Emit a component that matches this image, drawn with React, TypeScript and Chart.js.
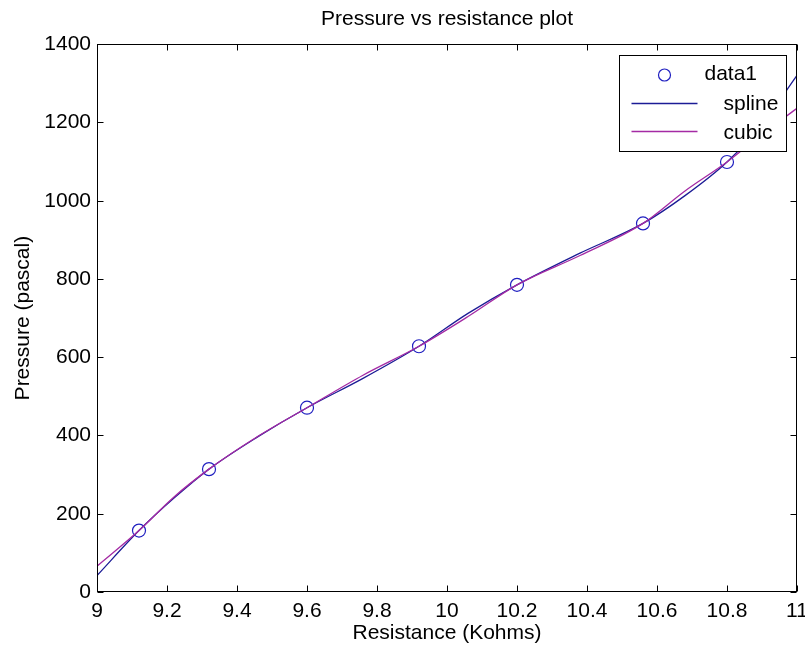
import React, { useEffect, useRef } from "react";
import { Chart, registerables } from "chart.js";

Chart.register(...registerables);

const FONT = "'Liberation Sans', Arial, Helvetica, sans-serif";

const titleText = "Pressure vs resistance plot";
const xTitle = "Resistance (Kohms)";
const yTitle = "Pressure (pascal)";
const legendLabels = ["data1", "spline", "cubic"];

// measured samples (circles)
const dataX = [9.12, 9.32, 9.6, 9.92, 10.2, 10.56, 10.8];
const dataY = [157, 314, 471, 628, 785, 942, 1099];

// curves
const curveX = [9, 9.12, 9.22, 9.32, 9.46, 9.6, 9.76, 9.92, 10.06, 10.2, 10.38, 10.56, 10.68, 10.8, 10.9, 11];
const splineY = [42, 157, 240, 314, 397, 471, 546, 628, 712, 785, 866, 942, 1013, 1099, 1195, 1320];
const cubicY = [66, 157, 243, 314, 398, 471, 554, 628, 704, 785, 860, 942, 1025, 1099, 1170, 1236];

const xTicks = [9, 9.2, 9.4, 9.6, 9.8, 10, 10.2, 10.4, 10.6, 10.8, 11];
const xTickLabels = ["9", "9.2", "9.4", "9.6", "9.8", "10", "10.2", "10.4", "10.6", "10.8", "11"];
const yTicks = [0, 200, 400, 600, 800, 1000, 1200, 1400];
const yTickLabels = ["0", "200", "400", "600", "800", "1000", "1200", "1400"];

const CIRCLE_COLOR = "#2020c0";
const SPLINE_COLOR = "#1c1c96";
const CUBIC_COLOR = "#a42aa4";

const boxPlugin = {
  id: "matlabBox",
  afterDatasetsDraw(chart: any) {
    const { ctx, chartArea: a, scales } = chart;
    const L = Math.round(a.left) + 0.5;
    const R = Math.round(a.right) - 0.5;
    const T = Math.round(a.top) + 0.5;
    const B = Math.round(a.bottom) - 0.5;
    ctx.save();
    ctx.strokeStyle = "#000";
    ctx.lineWidth = 1;
    ctx.strokeRect(L, T, R - L, B - T);
    const tl = 6;
    ctx.beginPath();
    xTicks.forEach((v) => {
      const px = Math.round(scales.x.getPixelForValue(v)) + 0.5;
      ctx.moveTo(px, B);
      ctx.lineTo(px, B - tl);
      ctx.moveTo(px, T);
      ctx.lineTo(px, T + tl);
    });
    yTicks.forEach((v) => {
      const py = Math.round(scales.y.getPixelForValue(v)) + 0.5;
      ctx.moveTo(L, py);
      ctx.lineTo(L + tl, py);
      ctx.moveTo(R, py);
      ctx.lineTo(R - tl, py);
    });
    ctx.stroke();
    ctx.restore();
  },
};

const legendPlugin = {
  id: "matlabLegend",
  afterDraw(chart: any) {
    const { ctx, chartArea: a } = chart;
    const left = Math.round(a.right) - 178 + 0.5;
    const top = Math.round(a.top) + 11 + 0.5;
    const w = 167;
    const h = 96;
    ctx.save();
    ctx.fillStyle = "#fff";
    ctx.fillRect(left, top, w, h);
    ctx.strokeStyle = "#000";
    ctx.lineWidth = 1;
    ctx.strokeRect(left, top, w, h);

    ctx.font = `21px ${FONT}`;
    ctx.fillStyle = "#000";
    ctx.textBaseline = "middle";
    ctx.textAlign = "left";

    // data1
    ctx.strokeStyle = CIRCLE_COLOR;
    ctx.lineWidth = 1.2;
    ctx.beginPath();
    ctx.arc(left + 45, top + 19.5, 6, 0, Math.PI * 2);
    ctx.stroke();
    ctx.fillText(legendLabels[0], left + 85, top + 19);

    // spline
    ctx.strokeStyle = SPLINE_COLOR;
    ctx.lineWidth = 1.3;
    ctx.beginPath();
    ctx.moveTo(left + 12, top + 48);
    ctx.lineTo(left + 78, top + 48);
    ctx.stroke();
    ctx.fillText(legendLabels[1], left + 104, top + 49);

    // cubic
    ctx.strokeStyle = CUBIC_COLOR;
    ctx.beginPath();
    ctx.moveTo(left + 12, top + 76);
    ctx.lineTo(left + 78, top + 76);
    ctx.stroke();
    ctx.fillText(legendLabels[2], left + 104, top + 78);
    ctx.restore();
  },
};

export default function App() {
  const ref = useRef<HTMLCanvasElement | null>(null);

  useEffect(() => {
    if (!ref.current) return;
    const font = { family: FONT, size: 21, weight: "normal" as const };
    const chart = new Chart(ref.current, {
      type: "line",
      data: {
        datasets: [
          {
            label: legendLabels[0],
            data: dataX.map((x, i) => ({ x, y: dataY[i] })),
            showLine: false,
            pointStyle: "circle",
            pointRadius: 6.5,
            pointBorderWidth: 1.2,
            pointBorderColor: CIRCLE_COLOR,
            pointBackgroundColor: "rgba(0,0,0,0)",
            borderColor: CIRCLE_COLOR,
            order: 3,
          },
          {
            label: legendLabels[1],
            data: curveX.map((x, i) => ({ x, y: splineY[i] })),
            borderColor: SPLINE_COLOR,
            borderWidth: 1.3,
            pointRadius: 0,
            cubicInterpolationMode: "monotone",
            order: 2,
          },
          {
            label: legendLabels[2],
            data: curveX.map((x, i) => ({ x, y: cubicY[i] })),
            borderColor: CUBIC_COLOR,
            borderWidth: 1.3,
            pointRadius: 0,
            cubicInterpolationMode: "monotone",
            order: 1,
          },
        ],
      },
      options: {
        responsive: false,
        animation: false,
        layout: { padding: { left: 0, right: 8, top: 0, bottom: 0 } },
        plugins: {
          legend: { display: false },
          tooltip: { enabled: false },
          title: {
            display: true,
            text: titleText,
            fullSize: false,
            color: "#000",
            font,
            padding: { top: 7, bottom: 12 },
          },
        },
        scales: {
          x: {
            type: "linear",
            min: 9,
            max: 11,
            afterBuildTicks: (s: any) => {
              s.ticks = xTicks.map((v) => ({ value: v }));
            },
            afterFit: (s: any) => {
              s.height = 58;
              s.paddingLeft = 0;
              s.paddingRight = 0;
            },
            ticks: {
              color: "#000",
              font,
              padding: 7,
              maxRotation: 0,
              autoSkip: false,
              callback: (_v: any, i: number) => xTickLabels[i],
            },
            grid: { display: false, drawTicks: false },
            border: { display: false },
            title: { display: true, text: xTitle, color: "#000", font, padding: { top: 0, bottom: 4 } },
          },
          y: {
            type: "linear",
            min: 0,
            max: 1400,
            afterBuildTicks: (s: any) => {
              s.ticks = yTicks.map((v) => ({ value: v }));
            },
            afterFit: (s: any) => {
              s.width = 97;
              s.paddingTop = 0;
              s.paddingBottom = 0;
            },
            ticks: {
              color: "#000",
              font,
              padding: 6,
              autoSkip: false,
              callback: (_v: any, i: number) => yTickLabels[i],
            },
            grid: { display: false, drawTicks: false },
            border: { display: false },
            title: { display: true, text: yTitle, color: "#000", font, padding: { top: 11, bottom: 0 } },
          },
        },
      },
      plugins: [boxPlugin, legendPlugin],
    });
    return () => chart.destroy();
  }, []);

  return (
    <div style={{ position: "absolute", left: 0, top: 0, width: 805, height: 650, background: "#fff" }}>
      <canvas ref={ref} width={805} height={650} />
    </div>
  );
}
